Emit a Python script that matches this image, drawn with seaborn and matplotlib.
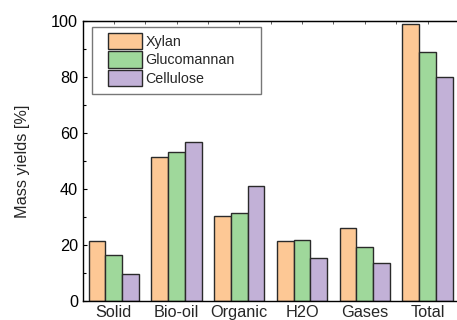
import matplotlib
matplotlib.use("Agg")
import matplotlib.pyplot as plt
import seaborn as sns
import pandas as pd
from matplotlib.ticker import MultipleLocator
from matplotlib.patches import Rectangle
from matplotlib.legend_handler import HandlerPatch

categories = ["Solid", "Bio-oil", "Organic", "H2O", "Gases", "Total"]
xylan = [21.4, 51.5, 30.3, 21.3, 26.0, 99.0]
glucomannan = [16.5, 53.1, 31.4, 21.7, 19.2, 89.0]
cellulose = [9.7, 56.8, 41.0, 15.5, 13.5, 80.1]
series_names = ["Xylan", "Glucomannan", "Cellulose"]
colors = ["#FDC895", "#9FD89B", "#C2B1D7"]

rows = []
for name, vals in zip(series_names, [xylan, glucomannan, cellulose]):
    for cat, v in zip(categories, vals):
        rows.append({"Fraction": cat, "Feedstock": name, "Yield": v})
df = pd.DataFrame(rows)

sns.set_style("ticks")
plt.rcParams["font.family"] = ["Liberation Sans", "DejaVu Sans"]
plt.rcParams["font.size"] = 11.7

fig = plt.figure(figsize=(4.57, 3.2), dpi=100)
ax = fig.add_axes([83 / 457, 1 - 301 / 320, 374 / 457, 280 / 320])

sns.barplot(data=df, x="Fraction", y="Yield", hue="Feedstock",
            order=categories, hue_order=series_names, palette=colors,
            width=0.8, gap=0, edgecolor="#2a2a2a", linewidth=1.0,
            saturation=1, errorbar=None, ax=ax)

ax.set_xlim(-0.49, 5.47)
ax.set_ylim(0, 100)
ax.yaxis.set_major_locator(MultipleLocator(20))
ax.yaxis.set_minor_locator(MultipleLocator(10))
ax.tick_params(axis="y", which="both", direction="in", length=3,
               width=0.8, labelsize=11.7, pad=3.5, colors="black")
ax.tick_params(axis="y", which="minor", length=2)
ax.tick_params(axis="x", length=0, labelsize=11.7, pad=3)
ax.set_xlabel("")
ax.set_ylabel("Mass yields [%]", fontsize=11.7, labelpad=15)

for side in ["left", "bottom", "top"]:
    ax.spines[side].set_visible(True)
    ax.spines[side].set_linewidth(1.0)
    ax.spines[side].set_color("black")
ax.spines["right"].set_visible(False)

# small inward ticks along the top edge every half category
top = ax.secondary_xaxis("top")
top.set_xticks([i * 0.5 for i in range(0, 12)])
top.tick_params(direction="in", length=2, width=0.6, labeltop=False, colors="#444444")


def inset_box(legend, orig_handle, xdescent, ydescent, width, height, fontsize):
    off = 0.2 * width
    return Rectangle((-xdescent + off, -ydescent - 0.12 * height), width - off, height * 1.25)


handles = [Rectangle((0, 0), 1, 1, facecolor=c, edgecolor="#2a2a2a", linewidth=1.0)
           for c in colors]
leg = ax.legend(handles, series_names, loc="upper left",
                bbox_to_anchor=(8.5 / 374, 271.5 / 280, 169 / 374, 0.01), mode="expand",
                frameon=True, fancybox=False, borderpad=0.55, handlelength=3.0,
                handleheight=1.0, handletextpad=0.24, labelspacing=0.3,
                borderaxespad=0, fontsize=10.3,
                handler_map={Rectangle: HandlerPatch(patch_func=inset_box)})
leg.get_frame().set_edgecolor("#555555")
leg.get_frame().set_linewidth(1.0)

fig.savefig("out.png", dpi=100)
